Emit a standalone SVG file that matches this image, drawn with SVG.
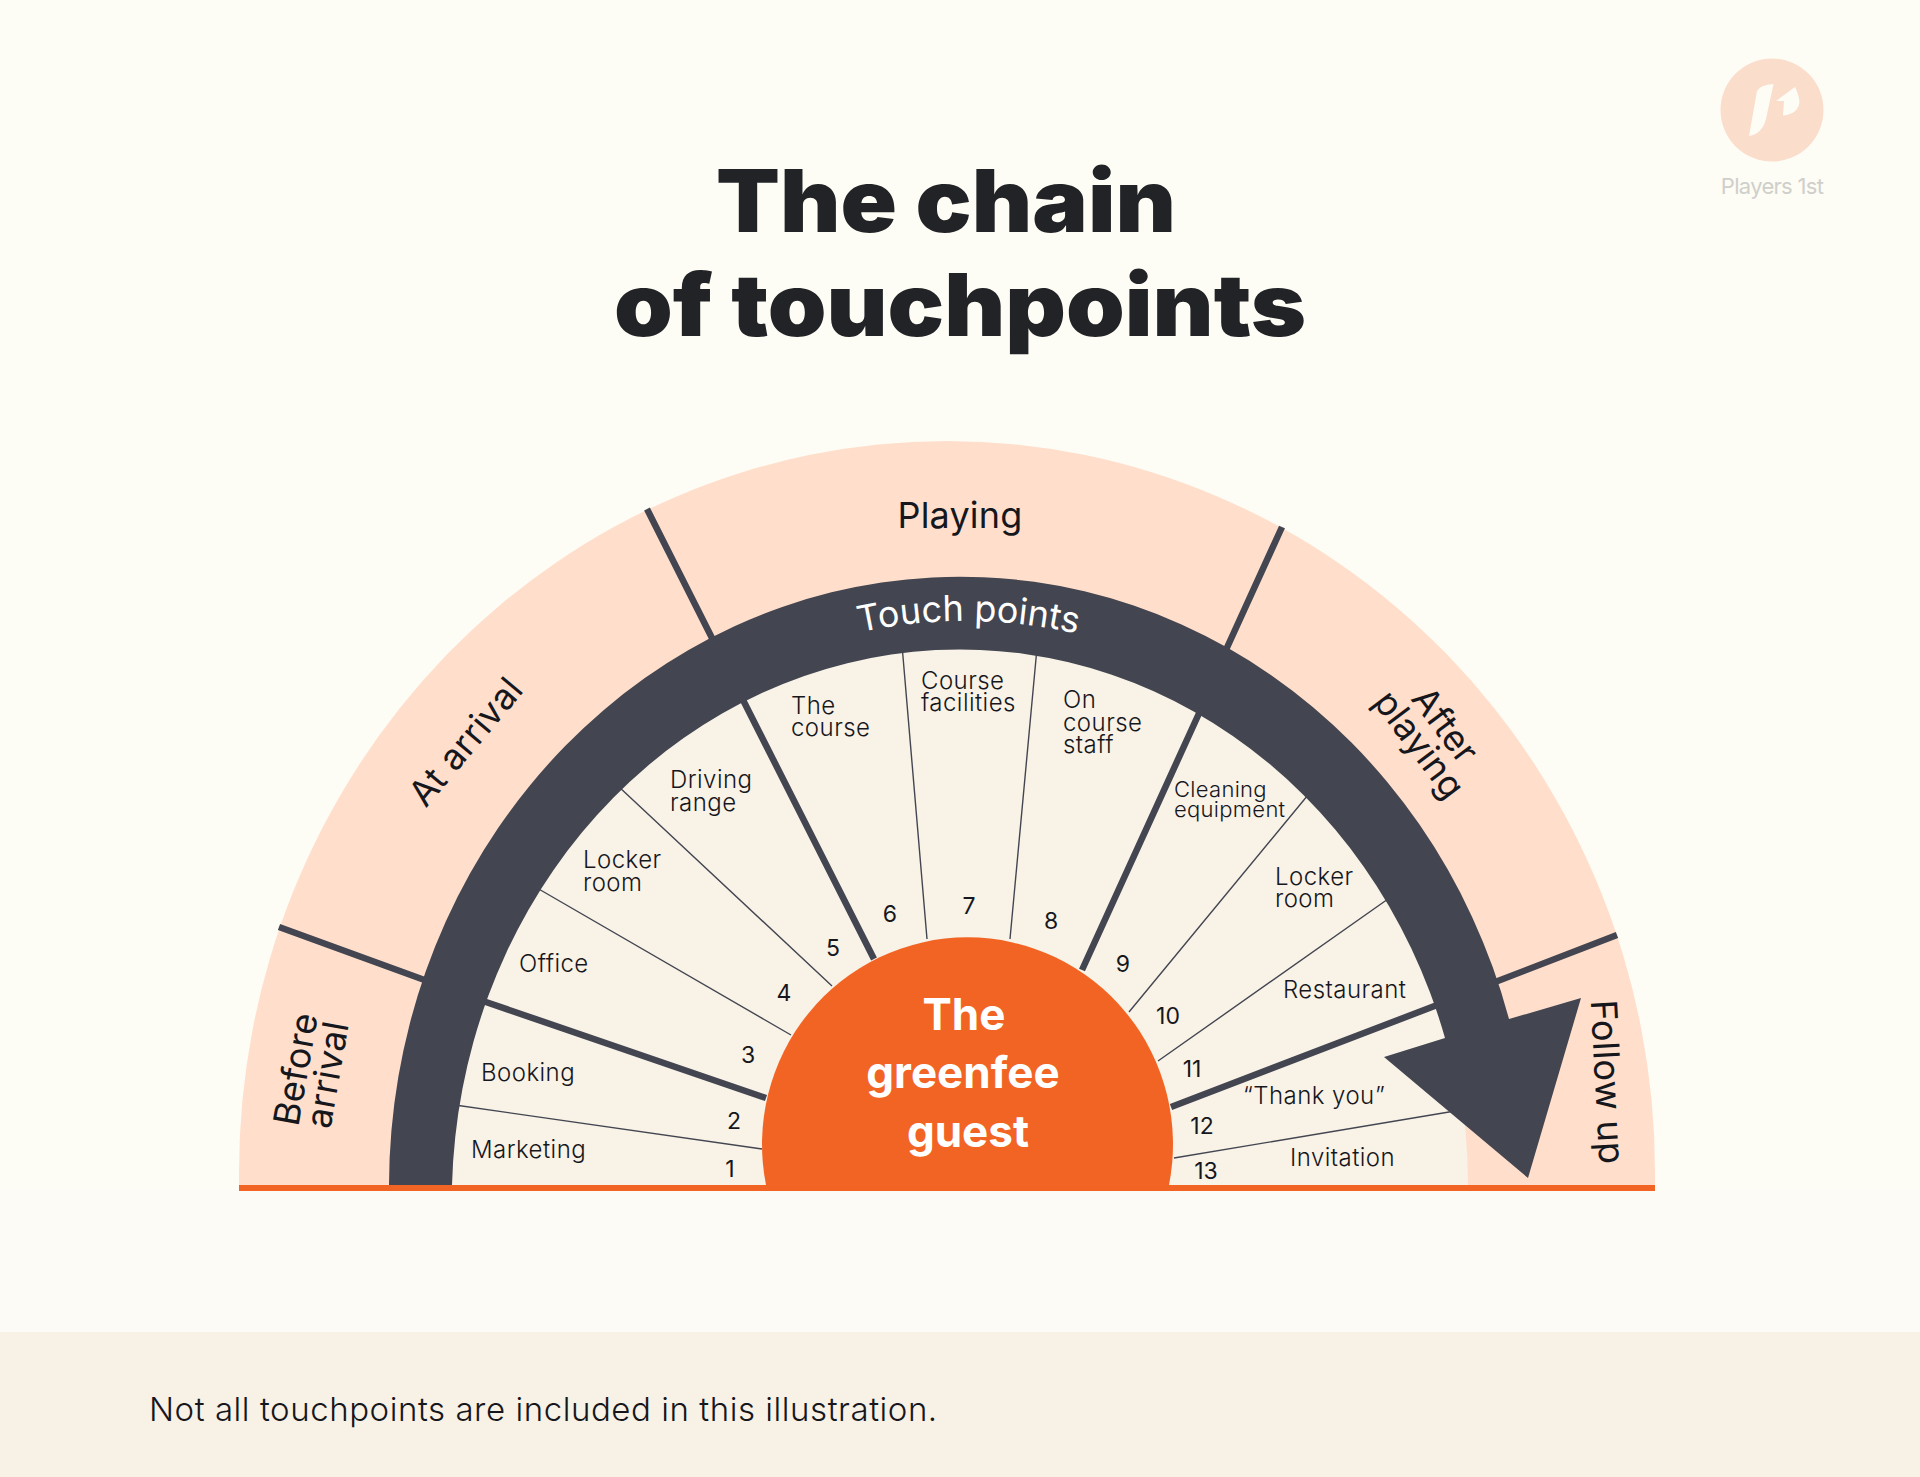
<svg xmlns="http://www.w3.org/2000/svg" width="1920" height="1477" viewBox="0 0 1920 1477">
<defs>
<style>
.t{font-family:"Inter","Liberation Sans",sans-serif;fill:#16171c;font-weight:350}
.s{font-size:24px;letter-spacing:.45px}
.n{font-size:23px;text-anchor:middle;font-weight:400}
.h{font-size:36px;font-weight:400;letter-spacing:.2px}
.g{font-family:"Inter","Liberation Sans",sans-serif;font-size:44px;font-weight:700;fill:#fff;text-anchor:middle}
.title{font-family:"Inter","Liberation Sans",sans-serif;font-size:87px;font-weight:900;fill:#222327}
.thick{stroke:#434651;stroke-width:6.5;fill:none}
.thin{stroke:#434651;stroke-width:1.4;fill:none}
</style>
<path id="tp" d="M435 1185 A530 564 0 0 1 1495 1185"/>
</defs>
<rect width="1920" height="1190" fill="#FEFDF5"/>
<rect y="1190" width="1920" height="142" fill="#FCFBF5"/>
<rect y="1332" width="1920" height="145" fill="#F8F1E6"/>
<g id="title">
<text class="title" x="716" y="232" textLength="460" lengthAdjust="spacingAndGlyphs">The chain</text>
<text class="title" x="614" y="336" textLength="692" lengthAdjust="spacingAndGlyphs">of touchpoints</text>
</g>
<g id="logo">
<circle cx="1772" cy="110" r="51.5" fill="#FBDDCC"/>
<path d="M1749 136 L1757 91 Q1760 85 1773.5 84 L1766 119 Q1762 134 1749 136Z M1776 101 L1795 87 Q1799 95 1799.5 102 Q1798 114 1783 115.5 L1784 101Z" fill="#FEFDF5"/>
<text x="1772" y="194" text-anchor="middle" font-family="Inter,'Liberation Sans',sans-serif" font-size="22" letter-spacing="-0.7" fill="#CFCFCB">Players 1st</text>
</g>
<g id="phases-bg">
<path d="M239 1185 L239 1172 A708 731 0 0 1 1655 1172 L1655 1185Z" fill="#FFDFCC"/>
<path d="M452 1185 A508 552 0 0 1 1468 1185Z" fill="#F9F2E7"/>
</g>
<g id="connectors">
<path class="thick" d="M279 927L430 982M647 509L715 644M1282 527L1225 652M1617 935L1490 984"/>
<path class="thick" d="M480 1000L766 1098M740 694L874 959M1201 709L1082 970M1445 1002L1171 1107"/>
<path class="thin" d="M455 1105L762 1149M537 888L791 1035M618 786L832 986M902 645L927 939M1037 648L1010 939M1308 795L1129 1012M1388 899L1158 1061M1455 1111L1174 1158"/>
</g>
<g id="touchpoints-arrow">
<path d="M389 1185 A571 610 0 0 1 1509 1019 L1581 998 L1528 1178 L1384 1057 L1445 1038 A508 552 0 0 0 452 1185Z" fill="#434651"/>
<text font-family="Inter,'Liberation Sans',sans-serif" font-size="36" fill="#fff" text-anchor="middle"><textPath href="#tp" startOffset="50.2%">Touch points</textPath></text>
</g>
<g id="center">
<path d="M766 1185 A205.5 207 0 1 1 1169 1185Z" fill="#F26424"/>
<text class="g" x="964" y="1030">The</text>
<text class="g" x="963" y="1088">greenfee</text>
<text class="g" x="968" y="1147">guest</text>
</g>
<rect id="baseline" x="239" y="1185" width="1416" height="6" fill="#F26424"/>
<g id="phase-before"><text class="t h" transform="translate(312 1072) rotate(-80)" text-anchor="middle"><tspan x="0" y="-4">Before</tspan><tspan x="0" y="28">arrival</tspan></text></g>
<g id="phase-arrival"><text class="t h" transform="translate(466 742) rotate(-50)" text-anchor="middle" y="12">At arrival</text></g>
<g id="phase-playing"><text class="t h" x="960" y="528" text-anchor="middle">Playing</text></g>
<g id="phase-after"><text class="t h" transform="translate(1432 735) rotate(53)" text-anchor="middle"><tspan x="0" y="-4">After</tspan><tspan x="0" y="28">playing</tspan></text></g>
<g id="phase-follow"><text class="t h" transform="translate(1607 1082) rotate(87)" text-anchor="middle" y="12">Follow up</text></g>
<g id="tp1"><text class="t s" x="471" y="1158">Marketing</text><text class="t n" x="730" y="1177">1</text></g>
<g id="tp2"><text class="t s" x="481" y="1081">Booking</text><text class="t n" x="734" y="1129">2</text></g>
<g id="tp3"><text class="t s" x="519" y="972">Office</text><text class="t n" x="748" y="1063">3</text></g>
<g id="tp4"><text class="t s" x="583" y="868">Locker</text><text class="t s" x="583" y="891">room</text><text class="t n" x="784" y="1001">4</text></g>
<g id="tp5"><text class="t s" x="670" y="788">Driving</text><text class="t s" x="670" y="811">range</text><text class="t n" x="833" y="956">5</text></g>
<g id="tp6"><text class="t s" x="791" y="714">The</text><text class="t s" x="791" y="736">course</text><text class="t n" x="890" y="922">6</text></g>
<g id="tp7"><text class="t s" x="921" y="689">Course</text><text class="t s" x="921" y="711">facilities</text><text class="t n" x="969" y="914">7</text></g>
<g id="tp8"><text class="t s" x="1063" y="708">On</text><text class="t s" x="1063" y="731">course</text><text class="t s" x="1063" y="753">staff</text><text class="t n" x="1051" y="929">8</text></g>
<g id="tp9"><text class="t" font-size="22" letter-spacing=".3" x="1174" y="797">Cleaning</text><text class="t" font-size="22" letter-spacing=".3" x="1174" y="817">equipment</text><text class="t n" x="1123" y="972">9</text></g>
<g id="tp10"><text class="t s" x="1275" y="885">Locker</text><text class="t s" x="1275" y="907">room</text><text class="t n" x="1168" y="1024">10</text></g>
<g id="tp11"><text class="t s" x="1283" y="998">Restaurant</text><text class="t n" x="1192" y="1077">11</text></g>
<g id="tp12"><text class="t s" x="1243" y="1104">“Thank you”</text><text class="t n" x="1202" y="1134">12</text></g>
<g id="tp13"><text class="t s" x="1290" y="1166">Invitation</text><text class="t n" x="1206" y="1179">13</text></g>
<text id="note" class="t" x="149" y="1421" font-size="33" letter-spacing=".55">Not all touchpoints are included in this illustration.</text>
</svg>
